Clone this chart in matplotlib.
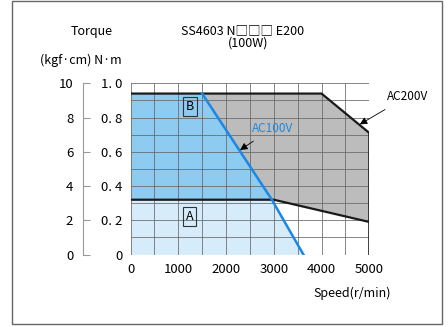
import matplotlib
matplotlib.use("Agg")
import matplotlib.pyplot as plt
from matplotlib.patches import Rectangle, Polygon
import numpy as np

plt.rcParams['font.family'] = ['Noto Sans CJK JP', 'DejaVu Sans']

# Data
ac200_speed = [0, 4000, 5000, 5000]
ac200_torque = [0.94, 0.94, 0.71, 0.0]
cont_speed = [0, 3000, 5000]
cont_torque = [0.32, 0.32, 0.19]
ac100_speed = [1500, 2960, 3620]
ac100_torque = [0.94, 0.32, 0.0]
x_ticks = [0, 1000, 2000, 3000, 4000, 5000]
y_ticks = [0, 0.2, 0.4, 0.6, 0.8, 1.0]
y_labels = ['0', '0. 2', '0. 4', '0. 6', '0. 8', '1. 0']
kgf_ticks = [0, 2, 4, 6, 8, 10]

W, H = 448, 327
fig = plt.figure(figsize=(W/100, H/100), dpi=100)

def fx(px): return px / W
def fy(py): return 1 - py / H

x0, x1, yb, yt = 130.5, 369.3, 254.5, 83.3
ax = fig.add_axes([fx(x0), fy(yb), fx(x1) - fx(x0), fy(yt) - fy(yb)])
ax.set_xlim(0, 5000)
ax.set_ylim(0, 1.0)

col_gray = '#bcbcbc'
col_B = '#8ecbf1'
col_A = '#d7ecfa'
col_blue = '#1a88e4'

# Gray region: under AC200V envelope, above continuous line
top_pts = list(zip(ac200_speed[:3], ac200_torque[:3]))
low_pts = list(zip(cont_speed, cont_torque))[::-1]
ax.add_patch(Polygon(top_pts + [(5000, cont_torque[-1])] + low_pts[1:], closed=True,
                     facecolor=col_gray, edgecolor='none', zorder=1))

# clip polygon under AC100V line
clip_poly = Polygon([(0, 0), (0, ac100_torque[0])] + list(zip(ac100_speed, ac100_torque)),
                    closed=True, transform=ax.transData, facecolor='none', edgecolor='none')
ax.add_patch(clip_poly)

B = ax.add_patch(Polygon([(0, 0)] + top_pts + [(5000, 0)], closed=True,
                         facecolor=col_B, edgecolor='none', zorder=1.1))
B.set_clip_path(clip_poly)
A = ax.add_patch(Polygon([(0, 0)] + list(zip(cont_speed, cont_torque)) + [(5000, 0)], closed=True,
                         facecolor=col_A, edgecolor='none', zorder=1.2))
A.set_clip_path(clip_poly)

# grid
ax.set_xticks(x_ticks)
ax.set_xticks(np.arange(0, 5001, 500), minor=True)
ax.set_yticks(y_ticks)
ax.set_yticks(np.arange(0, 1.01, 0.1), minor=True)
ax.set_xticklabels([str(v) for v in x_ticks])
ax.set_yticklabels(y_labels)
ax.grid(which='both', color='#666666', lw=0.55)
ax.set_axisbelow(False)
for g in ax.get_xgridlines() + ax.get_ygridlines():
    g.set_zorder(2)
ax.tick_params(which='both', length=0, labelsize=9.5, pad=6)
for s in ax.spines.values():
    s.set_visible(False)

# lines
ax.plot(ac200_speed, ac200_torque, color='#1a1a1a', lw=1.6, zorder=4, solid_joinstyle='miter')
ax.plot(cont_speed, cont_torque, color='#1a1a1a', lw=1.6, zorder=4)
ax.plot(ac100_speed, ac100_torque, color=col_blue, lw=1.8, zorder=5)

# A / B labels
bbox = dict(boxstyle='square,pad=0.25', facecolor='none', edgecolor='#333', lw=0.8)
ax.text(1246, 0.863, 'B', ha='center', va='center', fontsize=9, bbox=bbox, zorder=6)
ax.text(1235, 0.223, 'A', ha='center', va='center', fontsize=9, bbox=bbox, zorder=6)

# annotations (figure pixels: origin bottom-left)
ax.annotate('AC100V', xy=(2293, 0.61), xytext=(273, H - 128), textcoords='figure pixels',
            color=col_blue, fontsize=8.5, ha='center', va='center', zorder=6,
            arrowprops=dict(arrowstyle='-|>', color='black', lw=0.6, mutation_scale=11,
                            shrinkA=5, shrinkB=0))
ax.annotate('AC200V', xy=(4800, 0.76), xytext=(408, H - 96), textcoords='figure pixels',
            color='black', fontsize=8.5, ha='center', va='center', zorder=6,
            arrowprops=dict(arrowstyle='-|>', color='black', lw=0.6, mutation_scale=11,
                            shrinkA=6, shrinkB=0), annotation_clip=False)

# secondary kgf-cm axis
ax2 = fig.add_axes([fx(83), fy(yb), 0.0001, fy(yt) - fy(yb)])
ax2.set_ylim(0, 10)
ax2.set_yticks(kgf_ticks)
ax2.set_yticklabels([str(v) for v in kgf_ticks])
ax2.set_xticks([])
for k, s in ax2.spines.items():
    s.set_visible(k == 'left')
ax2.spines['left'].set_color('#999999')
ax2.spines['left'].set_linewidth(0.8)
ax2.tick_params(axis='y', direction='in', length=5, color='#999999', width=0.8,
                labelsize=9.5, pad=7)
ax2.patch.set_visible(False)

# texts
fig.text(fx(92), fy(31), 'Torque', ha='center', va='center', fontsize=9)
fig.text(fx(81), fy(60), '(kgf·cm) N·m', ha='center', va='center', fontsize=9)
fig.text(fx(243), fy(31), 'SS4603 N□□□ E200', ha='center', va='center', fontsize=9)
fig.text(fx(248), fy(43), '(100W)', ha='center', va='center', fontsize=9)
fig.text(fx(352), fy(293), 'Speed(r/min)', ha='center', va='center', fontsize=9)

# frame
fig.patches.append(Rectangle((fx(12), fy(324)), fx(442) - fx(12), fy(1) - fy(324),
                             transform=fig.transFigure, fill=False, edgecolor='#666666', lw=1.0))

fig.savefig('out.png', dpi=100)
